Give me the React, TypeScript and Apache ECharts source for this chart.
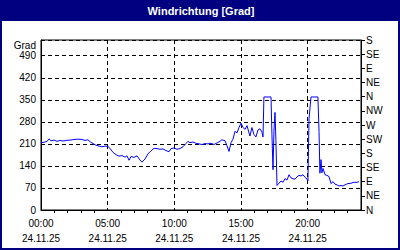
import React, { useEffect, useRef } from "react";
import * as echarts from "echarts";

const title = "Windrichtung [Grad]";
const dateLabel = "24.11.25";
const leftTicks = [0, 70, 140, 210, 280, 350, 420, 490];
const compassLabels = ["N", "NE", "E", "SE", "S", "SW", "W", "NW", "N", "NE", "E", "SE", "S"];

const hours = [
  0.0, 0.22, 0.45, 0.6, 0.75, 0.98, 1.2, 1.42, 1.65, 1.87, 2.17, 2.47, 2.77, 3.07, 3.3, 3.52, 3.67, 3.9,
  4.12, 4.35, 4.57, 4.8, 5.02, 5.17, 5.4, 5.62, 5.85, 6.07, 6.3, 6.45, 6.6, 6.75, 6.97, 7.2, 7.42, 7.57,
  7.8, 8.02, 8.25, 8.47, 8.7, 8.92, 9.15, 9.37, 9.6, 9.75, 9.97, 10.2, 10.42, 10.65, 10.87, 11.02, 11.17,
  11.4, 11.62, 11.85, 12.07, 12.3, 12.52, 12.75, 12.97, 13.2, 13.42, 13.57, 13.8, 13.95, 14.1, 14.25,
  14.4, 14.55, 14.7, 14.85, 15.0, 15.15, 15.3, 15.45, 15.6, 15.67, 15.82, 15.97, 16.12, 16.27, 16.42,
  16.57, 16.65, 16.72, 17.25, 17.32, 17.4, 17.47, 17.55, 17.62, 17.7, 17.85, 18.0, 18.15, 18.3, 18.45,
  18.6, 18.75, 18.9, 19.05, 19.2, 19.35, 19.5, 19.65, 19.8, 19.95, 20.02, 20.1, 20.25, 20.77, 20.85,
  20.92, 21.0, 21.07, 21.15, 21.3, 21.45, 21.6, 21.75, 21.9, 22.05, 22.2, 22.35, 22.5, 22.65, 22.8,
  23.02, 23.25, 23.47, 23.7, 23.85,
];
const direction = [
  214, 215, 218, 226, 220, 222, 218, 221, 219, 221, 222, 224, 225, 224, 221, 223, 217, 211,
  206, 203, 201, 203, 202, 196, 183, 176, 171, 173, 168, 172, 158, 170, 167, 172, 159, 152,
  162, 178, 188, 196, 195, 193, 194, 189, 185, 195, 197, 193, 195, 201, 211, 218, 214,
  216, 212, 210, 208, 211, 210, 212, 208, 213, 218, 223, 220, 204, 186, 214,
  225, 250, 245, 262, 276, 262, 256, 268, 245, 235, 262, 240, 232, 254, 258,
  248, 232, 359, 359, 240, 128, 250, 310, 220, 78, 85, 92, 88, 100, 95,
  112, 102, 99, 98, 105, 110, 108, 112, 104, 98, 92, 290, 359, 359, 250,
  117, 160, 118, 132, 112, 110, 106, 84, 90, 82, 80, 76, 78, 76, 80,
  84, 85, 88, 88, 90,
];

const NAVY = "#000080";
const FONT = "Liberation Sans";

export default function App() {
  const ref = useRef<HTMLDivElement>(null);
  useEffect(() => {
    if (!ref.current) return;
    const chart = echarts.init(ref.current, undefined, { renderer: "svg" });
    const pad = (n: number) => (n < 10 ? "0" + n : "" + n);
    const dash = { color: "#000", type: [4, 3] as any, width: 1 };
    chart.setOption({
      animation: false,
      backgroundColor: "#fff",
      textStyle: { fontFamily: FONT },
      grid: {
        left: 41,
        right: 39,
        top: 40,
        bottom: 40,
        show: true,
        borderColor: "#000",
        borderWidth: 1,
        backgroundColor: "#fff",
      },
      xAxis: {
        type: "value",
        min: 0,
        max: 24,
        interval: 5,
        axisLine: { show: true, lineStyle: { color: "#000" } },
        axisTick: { show: false },
        minorTick: { show: true, splitNumber: 5, length: 3, lineStyle: { color: "#000" } },
        splitLine: { show: true, lineStyle: dash },
        axisLabel: {
          color: "#000",
          fontFamily: FONT,
          fontSize: 10,
          lineHeight: 15,
          margin: 6,
          showMaxLabel: false,
          formatter: (v: number) => pad(v) + ":00\n" + dateLabel,
        },
      },
      yAxis: [
        {
          type: "value",
          min: 0,
          max: 540,
          interval: 70,
          axisLine: { show: true, lineStyle: { color: "#000" } },
          axisTick: { show: false },
          splitLine: { show: true, lineStyle: dash },
          axisLabel: {
            color: "#000",
            fontFamily: FONT,
            fontSize: 10,
            margin: 5,
            formatter: (v: number) => (leftTicks.indexOf(v) >= 0 ? String(v) : ""),
          },
        },
        {
          type: "value",
          min: 0,
          max: 540,
          interval: 45,
          position: "right",
          axisLine: { show: true, lineStyle: { color: "#000" } },
          axisTick: { show: true, inside: false, length: 4, lineStyle: { color: "#000" } },
          splitLine: { show: false },
          axisLabel: {
            color: "#000",
            fontFamily: FONT,
            fontSize: 10,
            margin: 5,
            formatter: (v: number) => compassLabels[Math.round(v / 45)] ?? "",
          },
        },
      ],
      series: [
        {
          type: "line",
          data: hours.map((h, i) => [h, direction[i]]),
          showSymbol: false,
          symbol: "none",
          lineStyle: { color: "#0000ff", width: 1 },
          yAxisIndex: 0,
        },
      ],
      graphic: [
        { type: "rect", shape: { x: 0, y: 0, width: 400, height: 21 }, style: { fill: NAVY } },
        { type: "rect", shape: { x: 0, y: 0, width: 2, height: 250 }, style: { fill: NAVY } },
        { type: "rect", shape: { x: 398, y: 0, width: 2, height: 250 }, style: { fill: NAVY } },
        { type: "rect", shape: { x: 0, y: 248, width: 400, height: 2 }, style: { fill: NAVY } },
        {
          type: "text",
          x: 201,
          y: 11,
          style: {
            text: title,
            fill: "#fff",
            font: "bold 11px " + FONT,
            textAlign: "center",
            textVerticalAlign: "middle",
          },
        },
        {
          type: "text",
          x: 36,
          y: 45,
          style: {
            text: "Grad",
            fill: "#000",
            font: "10px " + FONT,
            textAlign: "right",
            textVerticalAlign: "middle",
          },
        },
      ],
    });
    return () => chart.dispose();
  }, []);
  return (
    <div
      ref={ref}
      style={{ position: "fixed", left: 0, top: 0, width: 400, height: 250 }}
    />
  );
}
